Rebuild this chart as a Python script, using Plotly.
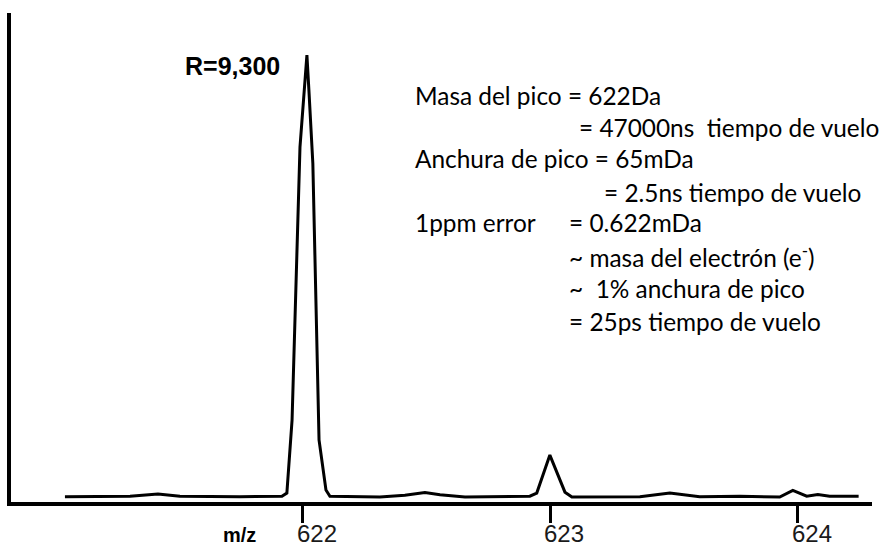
import plotly.graph_objects as go

# m/z values and relative intensities (%)
mz = [621.038, 621.301, 621.414, 621.503, 621.745, 621.915, 621.935, 621.956,
      621.988, 622.004, 622.016, 622.024, 622.040, 622.065, 622.093, 622.109,
      622.311, 622.412, 622.493, 622.554, 622.655, 622.917, 622.945, 622.998,
      623.059, 623.087, 623.362, 623.483, 623.604, 623.766, 623.927, 623.980,
      624.036, 624.081, 624.129, 624.246]
intensity = [1.2, 1.3, 1.8, 1.3, 1.2, 1.3, 2.0, 18.3,
             79.4, 91.7, 100.0, 92.2, 75.8, 13.9, 2.7, 1.3,
             1.1, 1.5, 2.1, 1.6, 1.1, 1.3, 2.0, 10.5,
             2.2, 1.1, 1.2, 2.0, 1.2, 1.3, 1.1, 2.6,
             1.3, 1.7, 1.3, 1.3]

tick_vals = [622, 623, 624]
tick_text = ["622", "623", "624"]

left_lines = [
    "Masa del pico = 622Da",
    "Anchura de pico = 65mDa",
    "1ppm error",
]
right_lines = [
    "= 47000ns  tiempo de vuelo",
    "= 2.5ns tiempo de vuelo",
    "= 0.622mDa",
    "~ masa del electrón (e<sup>-</sup>)",
    "~  1% anchura de pico",
    "= 25ps tiempo de vuelo",
]

fig = go.Figure()
fig.add_trace(go.Scatter(x=mz, y=intensity, mode="lines",
                         line=dict(color="black", width=3),
                         hoverinfo="skip", showlegend=False))

W, H = 882, 546
L, R, T, B = 11, 10, 13, 44
pw, ph = W - L - R, H - T - B

def px(x):
    return (x - L) / pw

def py(y):
    return (H - B - y) / ph

ann = []
ann.append(dict(text="<b>R=9,300</b>", x=px(183), y=py(66), xref="paper", yref="paper",
                xanchor="left", yanchor="middle", showarrow=False,
                font=dict(family="Liberation Sans, Arial", size=25, color="black")))
ann.append(dict(text="<b>m/z</b>", x=px(240), y=py(535), xref="paper", yref="paper",
                xanchor="center", yanchor="middle", showarrow=False, borderpad=0,
                font=dict(family="Liberation Sans, Arial", size=20, color="black")))

# tick labels (slightly right of their ticks, as in the reference)
for v, t in zip(tick_vals, tick_text):
    ann.append(dict(text=t, x=v, y=py(533), xref="x", yref="paper",
                    xanchor="center", yanchor="middle", showarrow=False, xshift=14,
                    borderpad=0,
                    font=dict(family="Liberation Sans, Arial", size=24, color="#1a1a1a")))

txt_font = dict(family="Lato, Carlito, Open Sans", size=24.4, color="black")
left_pos = [(413, 95), (413, 158), (413, 223)]
for t, (x, y) in zip(left_lines, left_pos):
    ann.append(dict(text=t, x=px(x), y=py(y), xref="paper", yref="paper",
                    xanchor="left", yanchor="middle", showarrow=False, font=txt_font))
right_pos = [(577, 127), (602, 192), (567, 223), (567, 256), (567, 288), (567, 321)]
for t, (x, y) in zip(right_lines, right_pos):
    ann.append(dict(text=t, x=px(x), y=py(y), xref="paper", yref="paper",
                    xanchor="left", yanchor="middle", showarrow=False, font=txt_font))

fig.update_layout(
    width=W, height=H,
    margin=dict(l=L, r=R, t=T, b=B, pad=0, autoexpand=False),
    plot_bgcolor="white", paper_bgcolor="white",
    annotations=ann,
    xaxis=dict(range=[620.82, 624.30], showgrid=False, zeroline=False,
               showline=True, linecolor="black", linewidth=4, automargin=False,
               tickmode="array", tickvals=tick_vals, showticklabels=False,
               ticks="outside", ticklen=17, tickwidth=3, tickcolor="black",
               fixedrange=True),
    yaxis=dict(range=[0, 109.4], showgrid=False, zeroline=False,
               showline=True, linecolor="black", linewidth=4, automargin=False,
               showticklabels=False, ticks="", fixedrange=True),
)

fig.write_html("out.html", config={"displayModeBar": False},
               post_script="document.body.style.margin='0';document.body.style.overflow='hidden';")
